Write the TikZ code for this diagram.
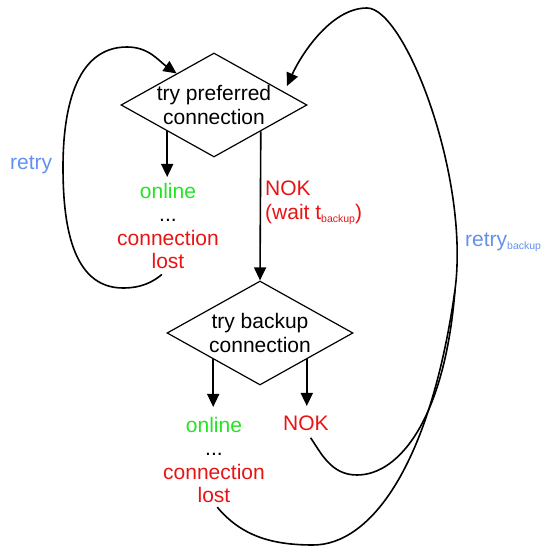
\documentclass[tikz,border=0pt]{standalone}
\usepackage{fontspec}
\setmainfont{Liberation Sans}
\usetikzlibrary{shapes.geometric,arrows.meta,calc}
\definecolor{okgreen}{RGB}{34,228,34}
\definecolor{errred}{RGB}{232,20,20}
\definecolor{loopblue}{RGB}{98,145,238}
\newcommand{\smallsub}[1]{\raisebox{-3pt}{\fontsize{10.5}{10.5}\selectfont #1}}
\begin{document}
\begin{tikzpicture}[x=1pt,y=1pt,
  txt/.style={font=\fontsize{21}{23.5}\selectfont, inner sep=0pt, align=center},
  decision/.style={shape=diamond, draw, line width=1.2pt, minimum width=186pt,
                   minimum height=104pt, inner sep=0pt},
  tip/.style={-{Triangle[width=12pt,length=13pt]}},
  flow/.style={line width=1.6pt, tip},
  loopline/.style={line width=1.6pt},
]
\useasboundingbox (0,0) rectangle (544,547);
\clip (0,0) rectangle (544,547);

% decisions
\node[decision, label={[txt]center:try preferred\\connection}] (pref) at (214,442) {};
\node[decision, label={[txt]center:try backup\\connection}] (backup) at (260,214) {};

% outcomes
\node[txt, anchor=north] (up1) at (168,364)
  {\textcolor{okgreen}{online}\\...\\\textcolor{errred}{connection}\\\textcolor{errred}{lost}};
\node[txt, anchor=north] (up2) at (214,130)
  {\textcolor{okgreen}{online}\\...\\\textcolor{errred}{connection}\\\textcolor{errred}{lost}};
\node[txt, anchor=north, text=errred] (fail2) at (306,131) {NOK};
\node[txt, anchor=north west, align=left, text=errred] (wait) at (265,366)
  {NOK\\(wait t\smallsub{backup})};

% loop labels
\node[txt, anchor=base west, text=loopblue] (retry) at (10,377) {retry};
\node[txt, anchor=base west, text=loopblue] (retryb) at (465,300) {retry\smallsub{backup}};

% where the retry loops come back in
\coordinate (hit1) at ($(pref.west)!0.6!(pref.north)$);
\coordinate (hit2) at (287,461);

% straight flow arrows
\draw[flow, shorten >=6pt] (pref.south west) -- (pref.south west |- up1.north);
\draw[flow] (pref.south east) -- (backup.north);
\draw[flow, shorten >=10pt] (backup.south west) -- (backup.south west |- up2.north);
\draw[flow, shorten >=10pt] (backup.south east) -- (backup.south east |- fail2.north);

% retry loop
\draw[loopline, tip, shorten <=8pt] (up1.south) to[out=-140,in=0] (123,259)
  to[out=180,in=-90] (63,380) to[out=90,in=180] (127,500) to[out=0,in=145] (hit1);

% retry after backup
\draw[loopline, tip, shorten <=5pt] (up2.south) to[out=-50,in=180] (313,2)
  .. controls (370,2) and (430,80) .. (455,257)
  .. controls (470,370) and (405,539) .. (367,539)
  .. controls (330,539) and (300,490) .. (hit2);
\draw[loopline, shorten <=8pt] (fail2.south) to[out=-55,in=180] (357,72)
  .. controls (400,72) and (445,130) .. (455,257);
\end{tikzpicture}
\end{document}
